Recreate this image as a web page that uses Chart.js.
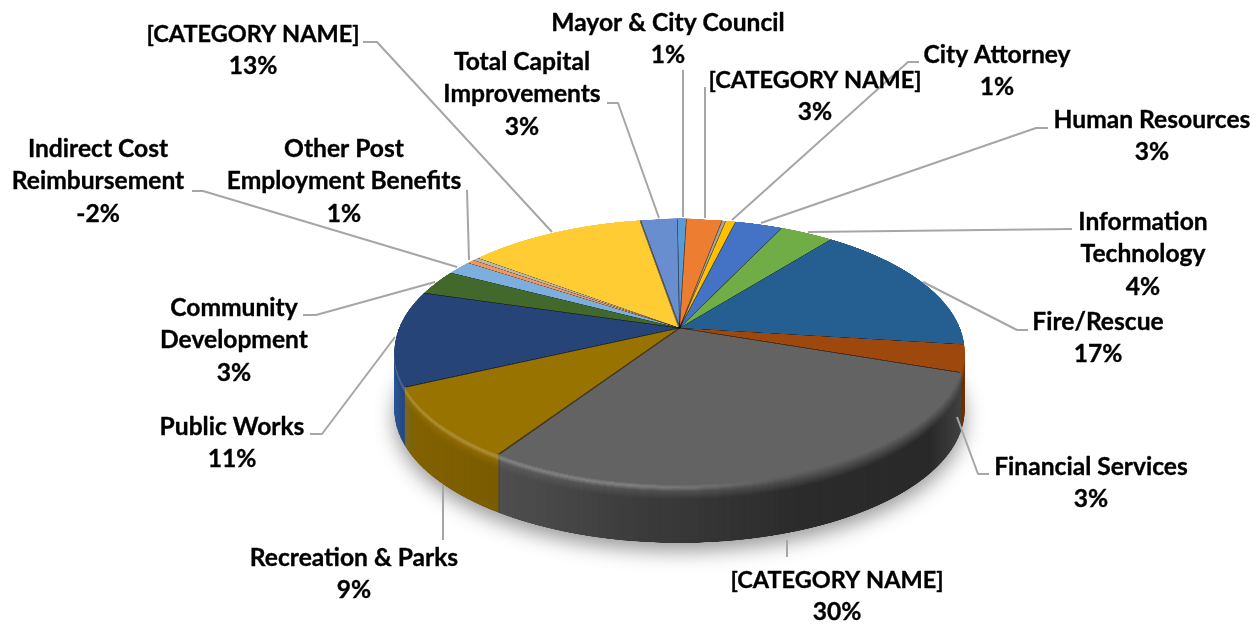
<!DOCTYPE html>
<html>
<head>
<meta charset="utf-8">
<style>
  html, body { margin: 0; padding: 0; background: #fff; }
  #wrap { width: 1257px; height: 624px; }
</style>
<script src="https://cdn.jsdelivr.net/npm/chart.js@4"></script>
</head>
<body>
<div id="wrap"><canvas id="my-chart" width="1257" height="624"></canvas></div>
<script>
// slice names, clockwise from 12 o'clock ('' = slice without a label in the original)
const categories = ['Mayor & City Council', '[CATEGORY NAME]', 'City Attorney', '', 'Human Resources',
  'Information Technology', 'Fire/Rescue', 'Financial Services', '[CATEGORY NAME]', 'Recreation & Parks',
  'Public Works', 'Community Development', 'Indirect Cost Reimbursement', 'Other Post Employment Benefits', '',
  '[CATEGORY NAME]', 'Total Capital Improvements']

// shares, Chart.js takes the absolute value of the negative one
const shares = [0.6, 2.4, 0.25, 0.67, 3.2, 3.6, 16.4, 3.3, 28.95, 8.75, 11.6, 3.1, -1.7, 0.5, 0.4, 12.05, 2.5]

const sliceColors = ['#5B9BD5', '#ED7D31', '#A5A5A5', '#FFC000', '#4472C4', '#70AD47', '#255E91', '#9E480E',
  '#636363', '#997300', '#264478', '#43682B', '#7CAFDD', '#F1975A', '#B7B7B7', '#FFCD33', '#698ED0']

// text of the data labels, one line per entry
const dataLabels = [
  { lines: ['Mayor & City Council', '1%'], x: 668, y: 23 },
  { lines: ['[CATEGORY NAME]', '3%'], x: 815, y: 80 },
  { lines: ['City Attorney', '1%'], x: 997, y: 55 },
  { lines: ['Human Resources', '3%'], x: 1152, y: 120 },
  { lines: ['Information', 'Technology', '4%'], x: 1143, y: 222 },
  { lines: ['Fire/Rescue', '17%'], x: 1098, y: 322 },
  { lines: ['Financial Services', '3%'], x: 1091, y: 467 },
  { lines: ['[CATEGORY NAME]', '30%'], x: 837, y: 580 },
  { lines: ['Recreation & Parks', '9%'], x: 354, y: 558 },
  { lines: ['Public Works', '11%'], x: 232, y: 427 },
  { lines: ['Community', 'Development', '3%'], x: 234, y: 308 },
  { lines: ['Indirect Cost', 'Reimbursement', '-2%'], x: 98, y: 149 },
  { lines: ['Other Post', 'Employment Benefits', '1%'], x: 344, y: 149 },
  { lines: ['[CATEGORY NAME]', '13%'], x: 253, y: 34 },
  { lines: ['Total Capital', 'Improvements', '3%'], x: 522, y: 62 }
]

// leader lines: label side, elbow, pie side
const leaders = [
  [[683, 70], [683, 217]],
  [[705, 87], [705, 218]],
  [[919, 62], [908, 62], [732, 220]],
  [[1048, 128], [1036, 128], [761, 223]],
  [[1072, 229], [808, 232]],
  [[1028, 330], [1017, 330], [923, 282]],
  [[989, 474], [978, 474], [957, 417]],
  [[787, 540], [787, 557]],
  [[443, 485], [443, 540]],
  [[310, 434], [322, 434], [395, 337]],
  [[303, 315], [316, 315], [435, 282]],
  [[192, 191], [203, 191], [457, 267]],
  [[467, 190], [469, 260]],
  [[363, 42], [377, 42], [552, 232]],
  [[607, 103], [618, 103], [659, 218]]
]

// perspective of the pie top: centre on screen, half width, vertical scale, foreshortening
const view = { cx: 679.5, cy: 328, a: 280.5, b: 128.7, p: 0.18, depth: 58, bevel: 15 }

// darkness of the side wall going left to right across the pie
const wallStops = [[394, 0.14], [500, 0.2], [640, 0.4], [800, 0.56], [930, 0.58], [965, 0.3]]

function renderFlatPie(meta) {
  const first = meta.data[0]
  const r = first.outerRadius
  const ss = 2
  const flat = document.createElement('canvas')
  flat.width = flat.height = Math.ceil(2 * r * ss)
  const c = flat.getContext('2d')
  c.setTransform(ss, 0, 0, ss, -(first.x - r) * ss, -(first.y - r) * ss)
  meta.data.forEach(arc => arc.draw(c))

  // dark seams where the slices meet, wider where an inner wall would show
  c.strokeStyle = 'rgba(0,0,0,0.42)'
  meta.data.forEach((arc, i) => {
    const prev = Math.abs(shares[(i + shares.length - 1) % shares.length])
    const fromTop = (arc.startAngle + Math.PI / 2) * 180 / Math.PI
    c.lineWidth = fromTop > 100 && prev >= 2.4 && Math.abs(shares[i]) >= 2.4 ? 2.4 : 1.3
    c.beginPath()
    c.moveTo(first.x, first.y)
    c.lineTo(first.x + Math.cos(arc.startAngle) * (r - 1), first.y + Math.sin(arc.startAngle) * (r - 1))
    c.stroke()
  })
  return flat
}

// squeeze the flat pie row by row into the perspective view
function projectPie(flat, w, h) {
  const face = document.createElement('canvas')
  face.width = w
  face.height = h
  const c = face.getContext('2d')
  const { cx, cy, a, b, p } = view
  const size = flat.width
  const toV = y => (y - cy) / (b + p * (y - cy))
  for (let y = 0; y < h; y++) {
    const v0 = toV(y)
    const v1 = toV(y + 1)
    if (v1 < -1 || v0 > 1) continue
    const s = 1 / (1 - p * (v0 + v1) / 2)
    const sy0 = Math.max(0, (v0 + 1) / 2 * size)
    const sy1 = Math.min(size, (v1 + 1) / 2 * size)
    if (sy1 <= sy0) continue
    c.drawImage(flat, 0, sy0, size, sy1 - sy0, cx - a * s, y, 2 * a * s, 1)
  }
  return face
}

function drawWalls(ctx, face, w, h) {
  const temp = document.createElement('canvas')
  temp.width = w
  temp.height = h
  const t = temp.getContext('2d')
  for (let d = view.depth; d >= 1; d--) {
    const amount = Math.min(1, d / view.bevel)
    t.globalCompositeOperation = 'source-over'
    t.clearRect(0, 0, w, h)
    t.drawImage(face, 0, d)
    t.globalCompositeOperation = 'source-atop'
    const dark = t.createLinearGradient(394, 0, 965, 0)
    wallStops.forEach(s => dark.addColorStop((s[0] - 394) / 571, `rgba(0,0,0,${s[1] * amount})`))
    t.fillStyle = dark
    t.fillRect(0, 0, w, h)

    // the left end of the wall catches some blue light
    const glow = t.createLinearGradient(394, 0, 414, 0)
    glow.addColorStop(0, `rgba(60,130,230,${0.4 * amount})`)
    glow.addColorStop(1, 'rgba(60,130,230,0)')
    t.fillStyle = glow
    t.fillRect(0, 0, w, h)

    if (d <= 6) {
      const shine = t.createLinearGradient(394, 0, 800, 0)
      const k = 0.22 * (1 - Math.abs(d - 3) / 4)
      shine.addColorStop(0, `rgba(255,255,255,${k})`)
      shine.addColorStop(0.6, `rgba(255,255,255,${k})`)
      shine.addColorStop(1, 'rgba(255,255,255,0)')
      t.fillStyle = shine
      t.fillRect(0, 0, w, h)
    }
    ctx.save()
    if (d === view.depth) {
      ctx.shadowColor = 'rgba(0,0,0,0.4)'
      ctx.shadowBlur = 20
      ctx.shadowOffsetY = 8
    }
    ctx.drawImage(temp, 0, 0)
    ctx.restore()
  }
}

const pie3d = {
  id: 'pie3d',
  beforeDatasetsDraw(chart) {
    const { ctx, width, height } = chart
    const face = projectPie(renderFlatPie(chart.getDatasetMeta(0)), width, height)
    drawWalls(ctx, face, width, height)
    ctx.drawImage(face, 0, 0)
    return false
  },
  afterDraw(chart) {
    const ctx = chart.ctx
    ctx.save()
    ctx.strokeStyle = '#A6A6A6'
    ctx.lineWidth = 2
    ctx.lineJoin = 'round'
    leaders.forEach(path => {
      ctx.beginPath()
      path.forEach((pt, i) => i ? ctx.lineTo(pt[0], pt[1]) : ctx.moveTo(pt[0], pt[1]))
      ctx.stroke()
    })
    ctx.fillStyle = '#000'
    ctx.strokeStyle = '#000'
    ctx.lineWidth = 0.35
    ctx.textAlign = 'center'
    ctx.textBaseline = 'middle'
    dataLabels.forEach(label => {
      label.lines.forEach((line, i) => {
        // capitals run narrower in Lato's bold than in the original, the rest wider
        ctx.font = line === line.toUpperCase() && line.length > 4 ? '700 23.5px Lato' : '700 24.6px Lato'
        const y = label.y + i * 32.3
        ctx.fillText(line, label.x, y)
        ctx.strokeText(line, label.x, y)
      })
    })
    ctx.restore()
  }
}

new Chart(document.getElementById('my-chart'), {
  type: 'pie',
  data: {
    labels: categories,
    datasets: [{ data: shares, backgroundColor: sliceColors, borderWidth: 0 }]
  },
  options: {
    responsive: false,
    animation: false,
    events: [],
    rotation: -0.5,
    plugins: { legend: { display: false }, tooltip: { enabled: false } }
  },
  plugins: [pie3d]
})
</script>
</body>
</html>
